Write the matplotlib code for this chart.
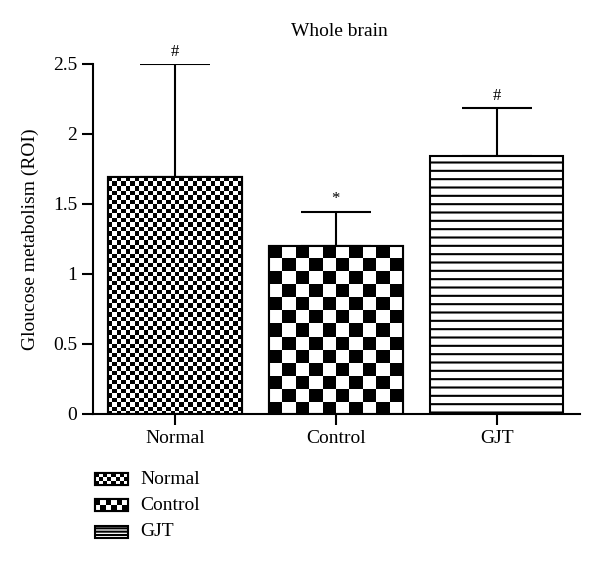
import numpy as np
import matplotlib.pyplot as plt
from matplotlib.patches import Rectangle

plt.rcParams['font.family'] = ['Liberation Serif', 'DejaVu Serif']
plt.rcParams['hatch.linewidth'] = 1.5

groups = ['Normal', 'Control', 'GJT']
means = [1.69, 1.20, 1.845]
errs = [0.81, 0.245, 0.34]
marks = ['#', '*', '#']
yticks = [0, 0.5, 1, 1.5, 2, 2.5]
ytick_labels = ['0', '0.5', '1', '1.5', '2', '2.5']

fig = plt.figure(figsize=(6, 5.66), dpi=100)
ax = fig.add_axes([0.155, 0.2686, 0.812, 0.6184])
xlim = (-0.51, 2.52)
ylim = (0, 2.5)
ax.set_xlim(*xlim)
ax.set_ylim(*ylim)

# pixels per data unit, for sizing the checker cells
pos = ax.get_position()
ppx = pos.width * fig.get_figwidth() * fig.dpi / (xlim[1] - xlim[0])
ppy = pos.height * fig.get_figheight() * fig.dpi / (ylim[1] - ylim[0])


def checker(nx, ny):
    return np.indices((ny, nx)).sum(0) % 2


width = 0.83
x = np.arange(len(groups))
cells = [4.5, 13.0, None]  # checker cell size in px, None = hatch lines

for i in range(len(groups)):
    if cells[i] is None:
        ax.bar(x[i], means[i], width, color='white', edgecolor='black',
               linewidth=1.5, hatch='--', zorder=2)
        continue
    b = ax.bar(x[i], means[i], width, color='white', edgecolor='black',
               linewidth=1.5, zorder=1)[0]
    nx = max(1, int(round(width * ppx / cells[i])))
    ny = max(1, int(round(means[i] * ppy / cells[i])))
    ax.imshow(checker(nx, ny), cmap='gray', interpolation='nearest',
              extent=(x[i] - width / 2, x[i] + width / 2, means[i] - ny * cells[i] / ppy, means[i]),
              aspect='auto', clip_path=b, zorder=2)
    ax.bar(x[i], means[i], width, fill=False, edgecolor='black',
           linewidth=1.5, zorder=3)

ax.errorbar(x, means, yerr=[np.zeros(len(means)), errs], fmt='none',
            ecolor='black', elinewidth=1.5, capsize=25, capthick=1.5, zorder=1)
for i in range(len(groups)):
    ax.annotate(marks[i], (x[i], means[i] + errs[i]), xytext=(0, 3),
                textcoords='offset points', ha='center', va='bottom', fontsize=12)

ax.set_xlim(*xlim)
ax.set_ylim(*ylim)
ax.set_xticks(x)
ax.set_xticklabels(groups)
ax.set_yticks(yticks)
ax.set_yticklabels(ytick_labels)
ax.tick_params(labelsize=14, width=1.5, length=8, direction='out')
ax.spines['top'].set_visible(False)
ax.spines['right'].set_visible(False)
ax.spines['left'].set_linewidth(1.5)
ax.spines['bottom'].set_linewidth(1.5)
ax.set_ylabel('Gloucose metabolism (ROI)', fontsize=14, labelpad=10)
fig.text(0.565, 0.945, 'Whole brain', ha='center', va='center', fontsize=14)

# legend, drawn in figure pixel coordinates
lax = fig.add_axes([0, 0, 1, 1])
lax.set_xlim(0, 600)
lax.set_ylim(566, 0)
lax.axis('off')
leg_y = [473, 499, 526]
leg_cells = [4.0, 6.0, None]
for i, name in enumerate(groups):
    y0 = leg_y[i]
    if leg_cells[i] is None:
        lax.add_patch(Rectangle((95, y0), 33, 12, facecolor='white', edgecolor='black',
                                linewidth=1.5, hatch='-----'))
    else:
        r = Rectangle((95, y0), 33, 12, facecolor='white', edgecolor='black', linewidth=1.5)
        lax.add_patch(r)
        c = leg_cells[i]
        nx = int(round(33 / c))
        ny = int(round(12 / c))
        lax.imshow(checker(nx, ny), cmap='gray', interpolation='nearest',
                   extent=(95, 128, y0 + 12, y0), aspect='auto', clip_path=r, zorder=2)
        lax.add_patch(Rectangle((95, y0), 33, 12, fill=False, edgecolor='black',
                                linewidth=1.5, zorder=3))
    lax.text(140, y0 + 6, name, ha='left', va='center', fontsize=14)
lax.set_xlim(0, 600)
lax.set_ylim(566, 0)

fig.savefig('out.png', dpi=100)
